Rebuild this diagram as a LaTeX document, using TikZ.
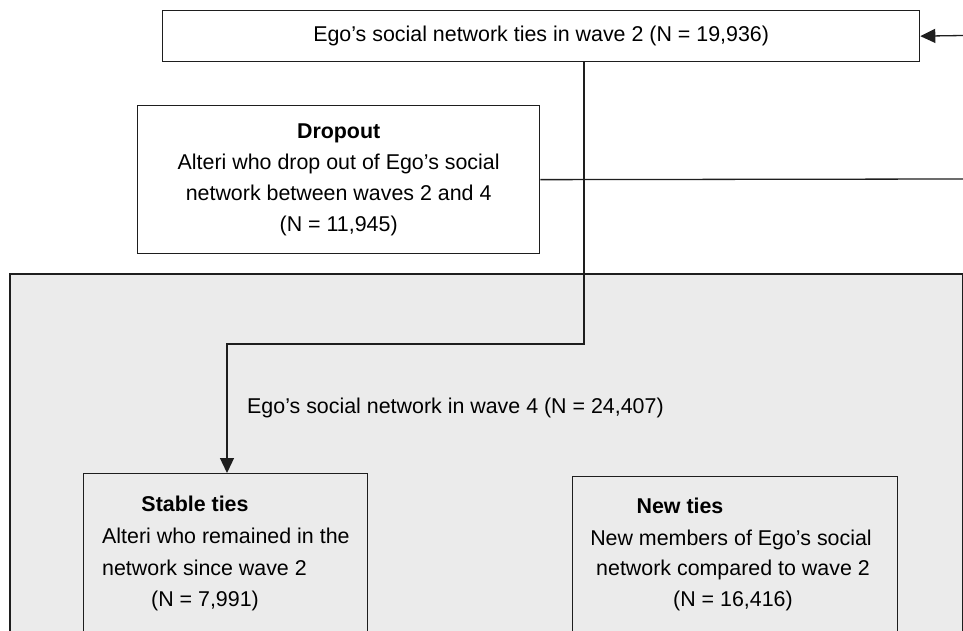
\documentclass[tikz,border=0pt]{standalone}
\usepackage{fontspec}
\setmainfont{Liberation Sans}
\usetikzlibrary{arrows.meta}
\definecolor{panelgrey}{HTML}{EBEBEB}
\definecolor{linegrey}{HTML}{1E1E1E}
\begin{document}
\begin{tikzpicture}[x=1pt,y=-1pt,
  box/.style={draw=linegrey, line width=1.3pt, inner sep=0pt, align=center,
    font=\fontsize{21.4}{31}\selectfont},
  conn/.style={draw=linegrey, line width=1.3pt},
  tip/.style={-{Triangle[length=15pt,width=14pt]}},
  txt/.style={anchor=base, inner sep=0pt, font=\fontsize{21.4}{31}\selectfont},
  ]
\useasboundingbox (0,0) rectangle (963,631);
\clip (0,0) rectangle (963,631);
\fill[white] (0,0) rectangle (963,631);

% panel holding the wave-4 network
\node[box, fill=panelgrey, line width=2pt, anchor=north west,
  minimum width=953pt, minimum height=420pt] (panel) at (9,273) {};

% boxes
\node[box, anchor=north west, minimum width=757pt, minimum height=51pt] (ego2) at (162,10)
  {Ego’s social network ties in wave 2 (N = 19,936)};
\node[box, fill=white, anchor=north west, minimum width=402pt, minimum height=148pt] (drop) at (137,105)
  {\textbf{Dropout}\\ Alteri who drop out of Ego’s social\\ network between waves 2 and 4\\ (N = 11,945)};
\node[box, anchor=north west, minimum width=284pt, minimum height=250pt] (stable) at (83,473) {};
\node[box, anchor=north west, minimum width=325pt, minimum height=250pt] (new) at (572,476) {};

% texts of the two wave-4 boxes
\node[txt] (st1) at (195,511) {\textbf{Stable ties}};
\node[txt, anchor=base west] (st2) at (102,543) {Alteri who remained in the};
\node[txt, anchor=base west] (st3) at (102,575) {network since wave 2};
\node[txt] (st4) at (205,606) {(N = 7,991)};

\node[txt] (nt1) at (680,513) {\textbf{New ties}};
\node[txt] (nt2) at (731,545) {New members of Ego’s social};
\node[txt] (nt3) at (733,575) {network compared to wave 2};
\node[txt] (nt4) at (733,606) {(N = 16,416)};

\node[txt, anchor=base west] (w4) at (247,413) {Ego’s social network in wave 4 (N = 24,407)};

% connectors
\coordinate (inA) at (963,35.5);
\coordinate (outB) at (963,179);
\coordinate (bend1) at (584,344);
\coordinate (bend2) at (227,344);
\draw[conn, tip] (inA) -- (ego2.east);
\draw[conn] (drop.east) -- (outB);
\draw[conn, tip] (ego2.south -| bend1) -- (bend1) -- (bend2) -- (stable.north -| bend2);
\end{tikzpicture}
\end{document}
